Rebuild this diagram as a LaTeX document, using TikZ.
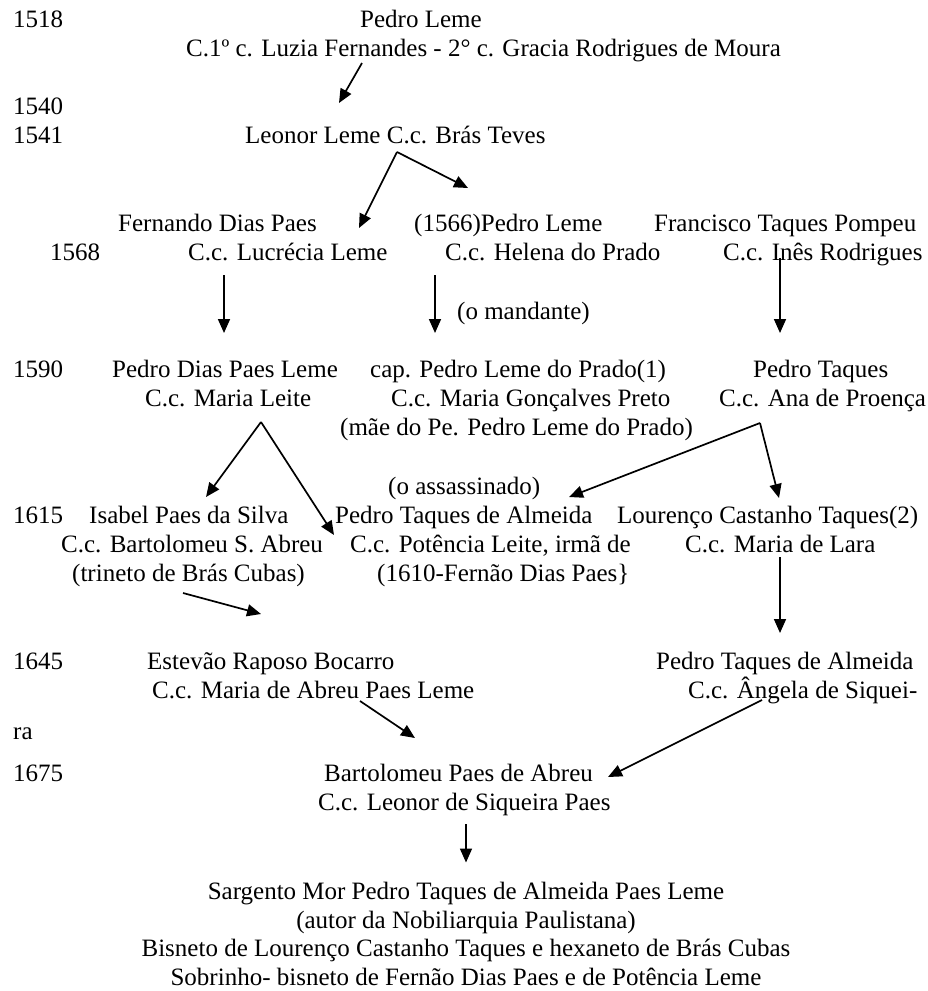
\documentclass[tikz,border=0pt]{standalone}
\usepackage{fontspec}
\setmainfont{Liberation Serif}
\usetikzlibrary{arrows.meta, calc}

\begin{document}
\begin{tikzpicture}[x=1pt, y=-1pt,
    txt/.style={inner sep=0pt, anchor=base west, font=\fontsize{25}{29}\selectfont},
    mid/.style={txt, anchor=base},
    arr/.style={-{Triangle[length=14pt,width=12pt]}, line width=1.7pt}]
    \useasboundingbox (0,0) rectangle (928,991);

    \node[txt] (y1518) at (13,27) {1518};
    \node[txt] (pedroA) at (360,27) {Pedro Leme};
    \node[txt] (pedroB) at (186,56.2) {C.1º c. Luzia Fernandes - 2° c. Gracia Rodrigues de Moura};

    \node[txt] (y1540) at (13,114.6) {1540};
    \node[txt] (y1541) at (13,143.8) {1541};
    \node[txt] (leonor) at (245,143.8) {Leonor Leme C.c. Brás Teves};

    \node[txt] (fernA) at (118,231.4) {Fernando Dias Paes};
    \node[txt] (plemeA) at (414,231.4) {(1566)Pedro Leme};
    \node[txt] (franA) at (654,231.4) {Francisco Taques Pompeu};
    \node[txt] (y1568) at (50,260.6) {1568};
    \node[txt] (fernB) at (188,260.6) {C.c. Lucrécia Leme};
    \node[txt] (plemeB) at (445,260.6) {C.c. Helena do Prado};
    \node[txt] (franB) at (723,260.6) {C.c. Inês Rodrigues};
    \node[txt] (mandante) at (457,319) {(o mandante)};

    \node[txt] (y1590) at (13,377.4) {1590};
    \node[txt] (pdiasA) at (112,377.4) {Pedro Dias Paes Leme};
    \node[txt] (pdiasB) at (145,406.6) {C.c. Maria Leite};
    \node[txt] (capA) at (370,377.4) {cap. Pedro Leme do Prado(1)};
    \node[txt] (capB) at (391,406.6) {C.c. Maria Gonçalves Preto};
    \node[txt] (capC) at (340,435.8) {(mãe do Pe. Pedro Leme do Prado)};
    \node[txt] (ptaqA) at (753,377.4) {Pedro Taques};
    \node[txt] (ptaqB) at (719,406.6) {C.c. Ana de Proença};

    \node[txt] (assass) at (388,494.2) {(o assassinado)};
    \node[txt] (y1615) at (13,523.4) {1615};
    \node[txt] (isabA) at (89,523.4) {Isabel Paes da Silva};
    \node[txt] (isabB) at (61,552.6) {C.c. Bartolomeu S. Abreu};
    \node[txt] (isabC) at (72,581.8) {(trineto de Brás Cubas)};
    \node[txt] (ptalA) at (335,523.4) {Pedro Taques de Almeida};
    \node[txt] (ptalB) at (350,552.6) {C.c. Potência Leite, irmã de};
    \node[txt] (ptalC) at (377,581.8) {(1610-Fernão Dias Paes\}};
    \node[txt] (lourA) at (617,523.4) {Lourenço Castanho Taques(2)};
    \node[txt] (lourB) at (685,552.6) {C.c. Maria de Lara};

    \node[txt] (y1645) at (13,669.4) {1645};
    \node[txt] (estA) at (147,669.4) {Estevão Raposo Bocarro};
    \node[txt] (estB) at (152,698.6) {C.c. Maria de Abreu Paes Leme};
    \node[txt] (ptqzA) at (656,669.4) {Pedro Taques de Almeida};
    \node[txt] (ptqzB) at (688,698.6) {C.c. Ângela de Siquei-};
    \node[txt] (ra) at (13,739) {ra};

    \node[txt] (y1675) at (13,781) {1675};
    \node[txt] (bartA) at (324,781) {Bartolomeu Paes de Abreu};
    \node[txt] (bartB) at (318,810) {C.c. Leonor de Siqueira Paes};

    \node[mid] (sargA) at (466,899.5) {Sargento Mor Pedro Taques de Almeida Paes Leme};
    \node[mid] (sargB) at (466,928) {(autor da Nobiliarquia Paulistana)};
    \node[mid] (sargC) at (466,956.5) {Bisneto de Lourenço Castanho Taques e hexaneto de Brás Cubas};
    \node[mid] (sargD) at (466,985) {Sobrinho- bisneto de Fernão Dias Paes e de Potência Leme};

    \draw[arr] ($(pedroB.base west)+(176,6.8)$) -- ($(leonor.base west)+(94,-40.8)$);
    \draw[arr] ($(leonor.base west)+(152,8.2)$) -- ($(fernA.base west)+(241,-3.4)$);
    \draw[arr] ($(leonor.base west)+(152,8.2)$) -- ($(plemeA.base west)+(54,-43.4)$);
    \draw[arr] ($(fernB.base west)+(36,14.4)$) -- ($(pdiasA.base west)+(112,-44.4)$);
    \draw[arr] ($(plemeB.base west)+(-10,14.4)$) -- ($(capA.base west)+(65,-44.4)$);
    \draw[arr] ($(franB.base west)+(57,-2.6)$) -- ($(ptaqA.base west)+(27,-44.4)$);
    \draw[arr] ($(pdiasB.base west)+(116,15.4)$) -- ($(isabA.base west)+(117,-26.4)$);
    \draw[arr] ($(pdiasB.base west)+(116,15.4)$) -- ($(ptalA.base west)+(-1,11.6)$);
    \draw[arr] ($(ptaqB.base west)+(41,16.4)$) -- ($(ptalA.base west)+(234,-26.4)$);
    \draw[arr] ($(ptaqB.base west)+(41,16.4)$) -- ($(lourA.base west)+(162,-25.4)$);
    \draw[arr] ($(isabC.base west)+(111,11.2)$) -- ($(estA.base west)+(114,-55.4)$);
    \draw[arr] ($(lourB.base west)+(95,4.4)$) -- ($(ptqzA.base west)+(124,-36.4)$);
    \draw[arr] ($(estB.base west)+(208,2.4)$) -- ($(bartA.base west)+(91,-43)$);
    \draw[arr] ($(ptqzB.base west)+(74,1.4)$) -- ($(bartA.base west)+(284,-4)$);
    \draw[arr] ($(bartB.base west)+(148,14)$) -- ($(sargA.base)+(0,-37)$);
\end{tikzpicture}
\end{document}
